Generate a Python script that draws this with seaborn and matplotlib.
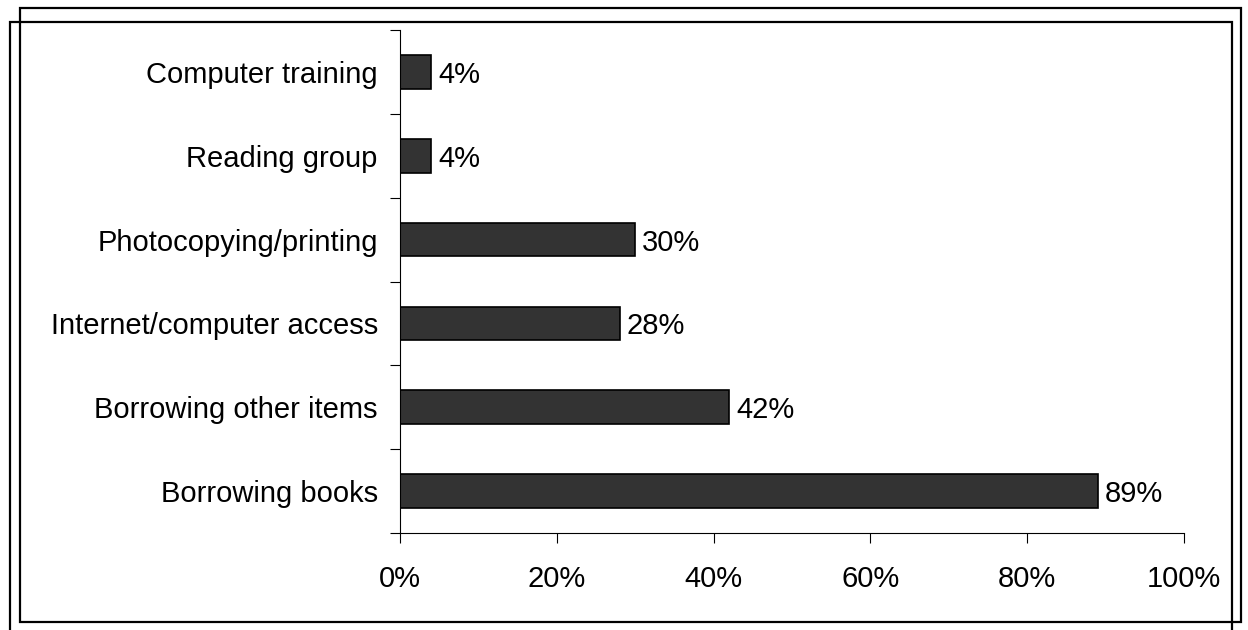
import matplotlib
matplotlib.use("Agg")
import matplotlib.pyplot as plt
from matplotlib.patches import Rectangle
from matplotlib.ticker import FixedLocator, PercentFormatter
import seaborn as sns

services = [
    "Computer training",
    "Reading group",
    "Photocopying/printing",
    "Internet/computer access",
    "Borrowing other items",
    "Borrowing books",
]
share = [4, 4, 30, 28, 42, 89]
x_ticks = [0, 20, 40, 60, 80, 100]

sns.set_style("white")
plt.rcParams["font.family"] = ["Liberation Sans", "DejaVu Sans"]
plt.rcParams["text.color"] = "black"

FS = 21
W, H = 1248, 630
fig = plt.figure(figsize=(W / 100, H / 100), dpi=100)
ax = fig.add_axes([400 / W, 1 - 533 / H, (1184 - 400) / W, (533 - 30) / H])

sns.barplot(
    x=share,
    y=services,
    orient="h",
    color="#333333",
    edgecolor="black",
    linewidth=1.2,
    width=0.4,
    saturation=1,
    ax=ax,
)

for i, v in enumerate(share):
    ax.annotate(f"{v}%", (v, i), xytext=(5, 0), textcoords="offset points",
                va="center_baseline", ha="left", fontsize=FS, color="black")

ax.set_xlim(0, 100)
ax.set_ylim(5.5, -0.5)
ax.set_xticks(x_ticks)
ax.xaxis.set_major_formatter(PercentFormatter(decimals=0))
ax.yaxis.set_minor_locator(FixedLocator([i - 0.5 for i in range(len(services) + 1)]))
ax.tick_params(axis="x", direction="out", length=7, width=0.8, color="black",
               labelsize=FS, labelcolor="black", pad=16, bottom=True)
ax.tick_params(axis="y", which="major", length=0, labelsize=FS,
               labelcolor="black", pad=16)
ax.tick_params(axis="y", which="minor", direction="out", length=7, width=0.8,
               color="black", left=True)
ax.set_xlabel("")
ax.set_ylabel("")

for side in ["top", "right"]:
    ax.spines[side].set_visible(False)
for side in ["left", "bottom"]:
    ax.spines[side].set_color("black")
    ax.spines[side].set_linewidth(0.8)

# two offset frames around the chart
def frame(x0, y0, x1, y1):
    fig.add_artist(Rectangle((x0 / W, 1 - y1 / H), (x1 - x0) / W, (y1 - y0) / H,
                             transform=fig.transFigure, fill=False,
                             edgecolor="black", linewidth=1.6, clip_on=False))

frame(10, 22, 1232, 640)
frame(20, 8, 1241, 622)

fig.savefig("out.png", dpi=100)
